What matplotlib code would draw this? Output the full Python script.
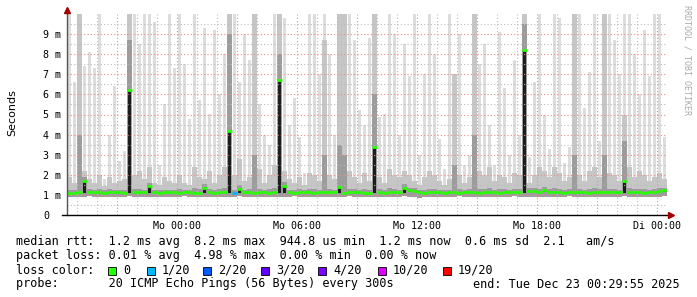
import numpy as np
import matplotlib
matplotlib.use('Agg')
import matplotlib.pyplot as plt
from matplotlib.patches import Rectangle

W, H = 697, 297

# 15 min bins, hours relative to Mo 00:00 (start Sun 18:30)
t_start = -5.5
bin_h = 0.25

median_ms = [
    1.10, 1.08, 1.12, 1.68, 1.15, 1.12, 1.14, 1.10, 1.13, 1.12,
    1.12, 1.11, 6.24, 1.12, 1.14, 1.13, 1.43, 1.12, 1.10, 1.12,
    1.13, 1.14, 1.11, 1.12, 1.15, 1.10, 1.08, 1.35, 1.12, 1.10,
    1.12, 1.15, 4.20, 1.10, 1.30, 1.12, 1.14, 1.10, 1.13, 1.15,
    1.11, 1.14, 6.70, 1.45, 1.12, 1.10, 1.13, 1.15, 1.12, 1.10,
    1.12, 1.15, 1.13, 1.12, 1.38, 1.10, 1.12, 1.14, 1.12, 1.10,
    1.09, 3.37, 1.12, 1.10, 1.13, 1.15, 1.12, 1.35, 1.22, 1.18,
    1.12, 1.08, 1.12, 1.14, 1.12, 1.10, 1.13, 1.12, 1.11, 1.15,
    1.14, 1.12, 1.10, 1.12, 1.16, 1.12, 1.10, 1.13, 1.14, 1.12,
    1.15, 8.23, 1.20, 1.18, 1.12, 1.25, 1.16, 1.14, 1.12, 1.10,
    1.12, 1.15, 1.13, 1.12, 1.10, 1.14, 1.12, 1.13, 1.12, 1.15,
    1.13, 1.68, 1.12, 1.14, 1.12, 1.10, 1.13, 1.15, 1.18, 1.22]

ping_min = [
    0.90, 0.92, 0.88, 0.90, 0.93, 0.91, 0.89, 0.92, 0.90, 0.88,
    0.91, 0.90, 0.93, 0.89, 0.90, 0.92, 0.91, 0.88, 0.90, 0.92,
    0.89, 0.91, 0.90, 0.93, 0.88, 0.90, 0.92, 0.91, 0.89, 0.90,
    0.92, 0.88, 0.91, 0.90, 0.93, 0.89, 0.90, 0.92, 0.91, 0.88,
    0.90, 0.92, 0.89, 0.91, 0.90, 0.93, 0.88, 0.90, 0.92, 0.91,
    0.89, 0.90, 0.92, 0.88, 0.91, 0.90, 0.93, 0.89, 0.90, 0.92,
    0.91, 0.88, 0.90, 0.92, 0.89, 0.91, 0.90, 0.93, 0.88, 0.90,
    0.85, 0.91, 0.89, 0.90, 0.92, 0.88, 0.91, 0.90, 0.93, 0.89,
    0.90, 0.92, 0.91, 0.88, 0.90, 0.92, 0.89, 0.91, 0.90, 0.93,
    0.88, 0.90, 0.92, 0.91, 0.89, 0.90, 0.92, 0.88, 0.91, 0.90,
    0.93, 0.89, 0.90, 0.92, 0.91, 0.88, 0.90, 0.92, 0.89, 0.91,
    0.90, 0.93, 0.88, 0.90, 0.92, 0.91, 0.89, 0.90, 0.92, 0.94]

ping_q25 = [
    1.06, 1.05, 1.08, 1.10, 1.11, 1.08, 1.10, 1.07, 1.09, 1.08,
    1.08, 1.07, 1.10, 1.08, 1.10, 1.09, 1.10, 1.08, 1.06, 1.08,
    1.09, 1.10, 1.07, 1.08, 1.11, 1.06, 1.05, 1.10, 1.08, 1.06,
    1.08, 1.11, 1.10, 1.06, 1.10, 1.08, 1.10, 1.06, 1.09, 1.11,
    1.07, 1.10, 1.10, 1.10, 1.08, 1.06, 1.09, 1.11, 1.08, 1.06,
    1.08, 1.11, 1.09, 1.08, 1.10, 1.06, 1.08, 1.10, 1.08, 1.06,
    1.05, 1.10, 1.08, 1.06, 1.09, 1.11, 1.08, 1.10, 1.12, 1.12,
    1.08, 1.04, 1.08, 1.10, 1.08, 1.06, 1.09, 1.08, 1.07, 1.11,
    1.10, 1.08, 1.06, 1.08, 1.12, 1.08, 1.06, 1.09, 1.10, 1.08,
    1.11, 1.10, 1.14, 1.13, 1.08, 1.12, 1.12, 1.10, 1.08, 1.06,
    1.08, 1.11, 1.09, 1.08, 1.06, 1.10, 1.08, 1.09, 1.08, 1.11,
    1.09, 1.10, 1.08, 1.10, 1.08, 1.06, 1.09, 1.11, 1.13, 1.16]

ping_q75 = [
    1.25, 1.22, 4.00, 1.90, 1.28, 1.25, 1.30, 1.22, 1.28, 1.24,
    1.25, 1.26, 8.70, 1.28, 1.30, 1.25, 1.60, 1.24, 1.22, 1.26,
    1.26, 1.25, 1.28, 1.25, 1.22, 1.32, 1.28, 1.55, 1.30, 1.24,
    1.28, 1.32, 9.00, 1.26, 1.50, 1.25, 1.28, 3.00, 1.30, 1.26,
    1.28, 1.35, 8.00, 1.65, 1.26, 1.25, 1.28, 1.24, 1.30, 1.28,
    1.25, 3.00, 1.30, 1.26, 3.50, 3.00, 1.30, 1.28, 1.25, 1.30,
    1.26, 6.00, 1.28, 1.25, 1.32, 1.30, 1.26, 1.55, 1.35, 1.32,
    1.24, 1.26, 1.30, 1.28, 1.25, 1.22, 1.26, 2.50, 1.28, 1.25,
    1.28, 4.00, 1.30, 1.28, 1.32, 1.25, 1.28, 1.28, 1.25, 1.30,
    1.30, 9.50, 1.35, 1.32, 1.30, 1.38, 1.30, 1.32, 1.30, 1.26,
    1.28, 3.00, 1.30, 1.25, 1.30, 1.32, 1.28, 3.00, 1.30, 1.30,
    1.26, 3.70, 1.32, 1.28, 1.30, 1.28, 1.26, 1.30, 1.32, 1.35]

ping_q90 = [
    1.9, 1.6, 10.0, 2.2, 1.8, 1.6, 2.0, 1.45, 1.9, 1.6,
    1.7, 1.8, 10.0, 2.0, 2.2, 1.8, 2.4, 1.6, 1.5, 1.9,
    1.7, 1.6, 2.0, 1.6, 1.5, 2.4, 1.9, 1.8, 2.2, 1.6,
    2.0, 2.4, 10.0, 2.0, 2.8, 1.7, 1.9, 10.0, 2.3, 1.6,
    2.0, 2.5, 10.0, 2.2, 1.8, 1.6, 1.9, 1.5, 2.1, 2.0,
    1.7, 8.7, 2.0, 1.8, 10.0, 10.0, 2.2, 1.9, 1.6, 2.1,
    1.7, 10.0, 1.9, 1.6, 2.3, 2.0, 1.9, 2.2, 2.0, 1.7,
    1.5, 1.9, 2.2, 2.0, 1.7, 1.5, 1.8, 7.0, 2.0, 1.6,
    1.9, 10.0, 2.2, 2.0, 2.4, 1.7, 2.0, 1.9, 1.6, 2.1,
    2.0, 10.0, 1.6, 2.0, 2.4, 2.2, 1.9, 2.4, 2.1, 1.7,
    1.9, 10.0, 2.0, 1.7, 2.2, 2.4, 1.9, 10.0, 2.1, 2.0,
    1.7, 5.0, 2.4, 1.9, 2.2, 2.0, 1.7, 1.9, 2.1, 1.8]

ping_max = [
    10.0, 6.6, 10.0, 7.4, 8.1, 7.3, 10.0, 1.8, 4.0, 6.4,
    2.7, 3.2, 10.0, 10.0, 8.5, 10.0, 10.0, 9.6, 2.5, 5.5,
    10.0, 7.3, 10.0, 7.5, 4.8, 10.0, 5.7, 9.3, 5.0, 9.2,
    6.0, 8.0, 10.0, 10.0, 6.6, 9.0, 7.7, 10.0, 5.5, 4.0,
    3.5, 10.0, 10.0, 9.8, 4.5, 5.8, 3.9, 2.1, 10.0, 10.0,
    7.0, 10.0, 8.0, 4.0, 10.0, 10.0, 10.0, 8.7, 5.2, 4.5,
    8.8, 10.0, 4.9, 5.0, 10.0, 9.0, 4.0, 8.5, 6.9, 10.0,
    3.0, 7.0, 10.0, 8.0, 3.8, 2.3, 10.0, 7.0, 9.0, 2.5,
    3.0, 10.0, 7.5, 8.5, 4.5, 2.5, 9.1, 6.3, 3.0, 7.7,
    4.0, 10.0, 2.9, 6.6, 10.0, 5.0, 3.3, 10.0, 9.8, 2.6,
    3.4, 10.0, 10.0, 5.3, 7.1, 10.0, 3.7, 10.0, 10.0, 8.7,
    7.0, 10.0, 10.0, 8.0, 6.0, 9.2, 6.9, 10.0, 10.0, 3.9]

# packets lost out of 20 per bin
loss = [0] * 33 + [1] + [0] * 86

loss_levels = [0, 1, 2, 3, 4, 10, 19]
loss_names = ['0', '1/20', '2/20', '3/20', '4/20', '10/20', '19/20']
loss_hex = ['#26ff00', '#00b8ff', '#0059ff', '#5e00ff', '#7e00ff', '#dd00ff', '#ff0000']

tick_hours = [0, 6, 12, 18, 24]
tick_names = ['Mo 00:00', 'Mo 06:00', 'Mo 12:00', 'Mo 18:00', 'Di 00:00']

legend_lines = [
    'median rtt:  1.2 ms avg  8.2 ms max  944.8 us min  1.2 ms now  0.6 ms sd  2.1   am/s',
    'packet loss: 0.01 % avg  4.98 % max  0.00 % min  0.00 % now',
    'loss color:',
    'probe:       20 ICMP Echo Pings (56 Bytes) every 300s',
]
end_text = 'end: Tue Dec 23 00:29:55 2025'

mono = 'DejaVu Sans Mono'

fig = plt.figure(figsize=(W / 100, H / 100), dpi=100)
ax = fig.add_axes([67 / W, (H - 215) / H, 600 / W, 201 / H])

n = len(median_ms)
edges = t_start + bin_h * np.arange(n + 1)
centers = edges[:-1] + bin_h / 2
p_min = np.array(ping_min)

# smoke: outer pings as thin bars, inner band continuous
ax.bar(centers, np.array(ping_max) - p_min, bottom=p_min, width=bin_h * 0.62,
       color='#dddddd', linewidth=0, zorder=1)
ax.stairs(ping_q90, edges, baseline=ping_min, fill=True, color='#c6c6c6', zorder=1.1)
ax.stairs(ping_q75, edges, baseline=ping_min, fill=True, color='#9c9c9c', zorder=1.2)
ax.bar(centers, np.array(median_ms) - np.array(ping_q25), bottom=ping_q25,
       width=bin_h * 0.62, color='#1c1c1c', linewidth=0, zorder=1.3)

# median, coloured by loss
col_of = dict(zip(loss_levels, loss_hex))
ax.hlines(median_ms, edges[:-1], edges[1:], colors=[col_of[l] for l in loss],
          lw=2.0, zorder=3)

ax.set_xlim(edges[0], edges[-1])
ax.set_ylim(0, 10)

# grid
ax.set_xticks(np.arange(-3, 25, 3))
ax.set_xticks(np.arange(-5, 25, 1), minor=True)
ax.set_xticklabels([tick_names[tick_hours.index(h)] if h in tick_hours else ''
                    for h in np.arange(-3, 25, 3)])
ax.set_yticks(np.arange(0, 10, 1))
ax.set_yticks(np.arange(0.5, 10, 0.5), minor=True)
ax.set_yticklabels(['0'] + ['%d m' % v for v in range(1, 10)])
ax.set_axisbelow(False)
ax.grid(which='minor', color='#bcbcbc', lw=0.8, ls=(0, (1, 2)))
ax.grid(which='major', color='#f08c8c', lw=0.8, ls=(0, (1, 2)))
ax.tick_params(which='both', length=0)
ax.tick_params(axis='x', pad=4, labelsize=7.2, labelfontfamily=mono)
ax.tick_params(axis='y', pad=17.3, labelsize=7.2, labelfontfamily=mono)
for lab in ax.get_yticklabels():
    lab.set_horizontalalignment('left')

for s in ax.spines.values():
    s.set_visible(False)
ax.plot([edges[0], edges[0]], [0, 10.2], color='#555555', lw=1, clip_on=False, zorder=4)
ax.plot([-5.75, 24.65], [0, 0], color='black', lw=1, clip_on=False, zorder=4)
ax.plot([edges[0]], [10.2], marker='^', ms=4, color='#a00000', clip_on=False, zorder=5)
ax.plot([24.7], [0], marker='>', ms=4, color='#a00000', clip_on=False, zorder=5)

fig.text(12 / W, 1 - 113 / H, 'Seconds', rotation=90, ha='center', va='center',
         fontsize=8, family='DejaVu Sans')
fig.text(687 / W, 1 - 5 / H, 'RRDTOOL / TOBI OETIKER', rotation=270, ha='center',
         va='top', fontsize=6, family=mono, color='#aaaaaa')

# legend block
rows_y = [241, 256, 270, 284]
for txt, yy in zip(legend_lines, rows_y):
    fig.text(16 / W, 1 - yy / H, txt, ha='left', va='center', fontsize=8.5, family=mono)
fig.text(680 / W, 1 - rows_y[3] / H, end_text, ha='right', va='center',
         fontsize=8.5, family=mono)

box_x = [108, 147, 203, 261, 318, 378, 443]
for bx, c, name in zip(box_x, loss_hex, loss_names):
    fig.add_artist(Rectangle((bx / W, 1 - 275 / H), 8 / W, 8 / H, transform=fig.transFigure,
                             facecolor=c, edgecolor='black', lw=0.6))
    fig.text((bx + 15) / W, 1 - rows_y[2] / H, name, ha='left', va='center',
             fontsize=8.5, family=mono)

fig.savefig('out.png', dpi=100)
